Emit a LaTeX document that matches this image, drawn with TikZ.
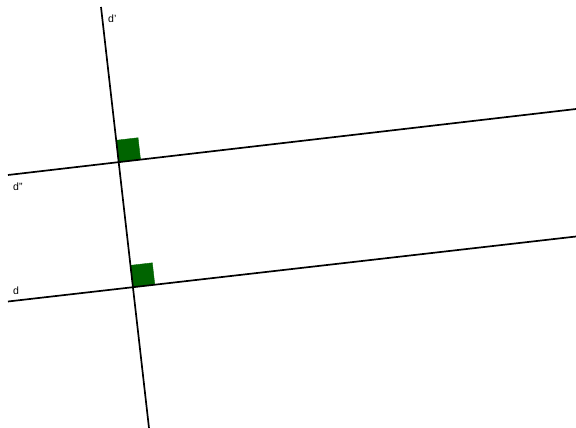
\documentclass[tikz,border=0pt]{standalone}
\usepackage{fontspec}
\setmainfont{Liberation Sans}
\usetikzlibrary{calc}
\definecolor{angfill}{HTML}{006400}
\tikzset{
  ln/.style={line width=1.7pt, black},
  lbl/.style={font=\fontsize{10.5}{12}\selectfont, inner sep=0pt},
  rightang/.style={fill=angfill, draw=angfill, line width=0.4pt}
}
\begin{document}
\begin{tikzpicture}[x=1pt,y=-1pt]
\useasboundingbox (0,0) rectangle (576,428);
% end points
\coordinate (T) at (101,7);
\coordinate (B) at (149,428);
\coordinate (L2) at (8,175);
\coordinate (R2) at (576,109);
\coordinate (L1) at (8,301.5);
\coordinate (R1) at (576,236.5);
% intersections
\coordinate (P2) at (intersection of T--B and L2--R2);
\coordinate (P1) at (intersection of T--B and L1--R1);
% right-angle squares
\coordinate (P2a) at ($(P2)!22pt!(R2)$);
\coordinate (P2b) at ($(P2)!22pt!(T)$);
\coordinate (P1a) at ($(P1)!22pt!(R1)$);
\coordinate (P1b) at ($(P1)!22pt!(T)$);
\fill[rightang] (P2) -- (P2a) -- ($(P2a)+(P2b)-(P2)$) -- (P2b) -- cycle;
\fill[rightang] (P1) -- (P1a) -- ($(P1a)+(P1b)-(P1)$) -- (P1b) -- cycle;
% lines
\draw[ln] (T) -- (B);
\draw[ln] (L2) -- (R2);
\draw[ln] (L1) -- (R1);
% labels
\node[lbl, anchor=base west] (ldp) at (108,23) {d'};
\node[lbl, anchor=base west] (ldpp) at (13,190) {d''};
\node[lbl, anchor=base west] (ld) at (13,294) {d};
\end{tikzpicture}
\end{document}
